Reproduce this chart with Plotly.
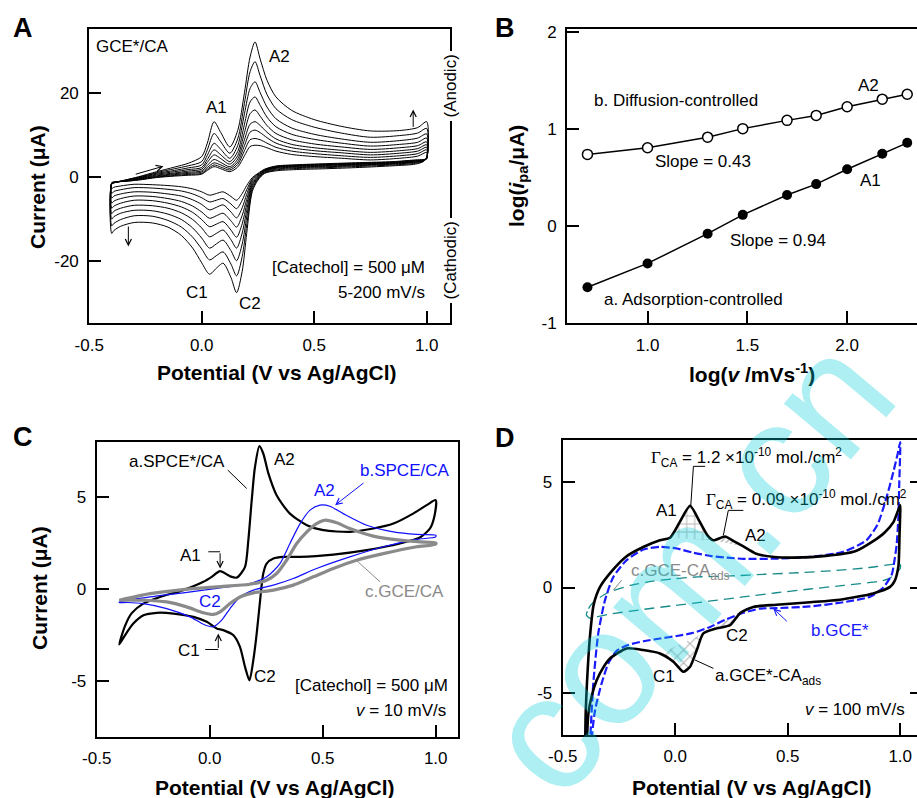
import plotly.graph_objects as go

W, H = 917, 798
FONT = "Liberation Sans, Arial, Helvetica, sans-serif"

# ---------------- Panel A : CVs at 9 scan rates ----------------
A_scan_rates = [200, 150, 100, 70, 50, 30, 20, 10, 5]
A_fwd_E = [-0.40, -0.38, -0.34, -0.28, -0.20, -0.12, -0.06, 0.00, 0.025, 0.055, 0.085, 0.125, 0.16,
           0.19, 0.215, 0.237, 0.26, 0.29, 0.33, 0.40, 0.50, 0.62, 0.75, 0.88, 0.96, 1.00]
A_fwd_I = [
    [-1.8, -1.3, -0.8, 0.0, 1.2, 2.3, 3.2, 4.8, 8.0, 13.1, 10.5, 7.1, 11.0, 20.0, 28.5, 32.1, 28.0, 23.0, 19.0, 15.8, 13.6, 12.0, 10.9, 11.0, 11.7, 13.1],
    [-1.8, -1.3, -0.8, -0.1, 1.0, 1.9, 2.6, 3.6, 6.4, 10.3, 8.3, 5.6, 9.0, 17.5, 25.0, 27.4, 24.0, 19.6, 16.2, 13.6, 11.8, 10.4, 9.4, 9.8, 10.4, 11.5],
    [-1.7, -1.3, -0.9, -0.2, 0.8, 1.5, 2.1, 2.8, 5.1, 7.95, 6.5, 4.4, 7.4, 15.0, 21.0, 22.6, 20.0, 16.6, 13.8, 11.6, 10.1, 9.0, 8.2, 8.6, 9.2, 10.2],
    [-1.7, -1.3, -0.9, -0.3, 0.6, 1.2, 1.7, 2.2, 4.1, 6.4, 5.2, 3.6, 6.0, 12.5, 17.8, 19.0, 17.0, 14.2, 11.9, 10.1, 8.9, 8.0, 7.3, 7.7, 8.2, 9.2],
    [-1.6, -1.3, -1.0, -0.4, 0.4, 0.9, 1.35, 1.8, 3.4, 5.2, 4.3, 3.0, 5.0, 10.5, 15.0, 15.9, 14.4, 12.2, 10.3, 8.8, 7.8, 7.1, 6.5, 6.9, 7.4, 8.3],
    [-1.6, -1.3, -1.0, -0.5, 0.2, 0.7, 1.05, 1.4, 2.7, 4.1, 3.4, 2.4, 4.2, 8.8, 12.5, 13.1, 12.2, 10.6, 9.0, 7.7, 6.9, 6.3, 5.8, 6.2, 6.7, 7.6],
    [-1.5, -1.3, -1.0, -0.6, 0.05, 0.5, 0.8, 1.1, 2.2, 3.3, 2.8, 2.0, 3.5, 7.4, 10.6, 11.1, 10.5, 9.3, 8.0, 6.9, 6.2, 5.7, 5.2, 5.6, 6.1, 7.0],
    [-1.5, -1.2, -1.1, -0.7, -0.1, 0.3, 0.55, 0.8, 1.8, 2.8, 2.3, 1.6, 2.9, 6.2, 8.8, 9.1, 8.8, 8.0, 7.0, 6.1, 5.5, 5.0, 4.6, 5.0, 5.5, 6.4],
    [-1.4, -1.2, -1.1, -0.8, -0.2, 0.15, 0.35, 0.6, 1.5, 2.4, 1.9, 1.2, 2.3, 5.0, 7.2, 7.5, 7.4, 6.9, 6.1, 5.3, 4.8, 4.4, 4.0, 4.4, 4.9, 5.8],
]
A_rev_E = [1.00, 0.985, 0.95, 0.85, 0.70, 0.55, 0.42, 0.33, 0.28, 0.25, 0.225, 0.20, 0.18, 0.155, 0.13,
           0.095, 0.065, 0.035, 0.00, -0.04, -0.09, -0.15, -0.22, -0.30, -0.36, -0.39, -0.40]
A_rev_I = [
    [4.6, 3.6, 3.0, 2.6, 2.2, 1.9, 1.7, 1.4, 0.8, -0.8, -3.5, -13.5, -22.5, -27.6, -24.0, -20.6, -21.8, -23.2, -20.5, -17.0, -14.0, -12.0, -11.0, -10.9, -11.8, -12.8, -13.5],
    [4.5, 3.7, 3.2, 2.8, 2.45, 2.15, 1.95, 1.6, 0.95, -0.6, -3.0, -11.5, -19.0, -23.6, -20.8, -17.9, -18.8, -19.8, -17.2, -14.4, -12.0, -10.4, -9.4, -9.3, -10.2, -11.1, -11.7],
    [4.5, 3.8, 3.4, 3.0, 2.65, 2.35, 2.15, 1.8, 1.1, -0.4, -2.5, -9.6, -16.0, -20.0, -17.6, -15.1, -16.0, -17.0, -14.6, -12.2, -10.2, -8.9, -8.1, -8.0, -8.7, -9.5, -10.1],
    [4.4, 3.8, 3.5, 3.1, 2.8, 2.5, 2.3, 2.0, 1.25, -0.2, -2.0, -8.0, -13.4, -17.0, -15.0, -12.7, -13.5, -14.3, -12.2, -10.2, -8.6, -7.5, -6.9, -6.8, -7.5, -8.2, -8.8],
    [4.4, 3.9, 3.6, 3.2, 2.95, 2.65, 2.45, 2.15, 1.4, 0.0, -1.6, -6.6, -11.2, -14.4, -12.7, -10.7, -11.3, -11.9, -10.2, -8.5, -7.2, -6.3, -5.7, -5.6, -6.3, -7.0, -7.5],
    [4.3, 3.9, 3.7, 3.3, 3.05, 2.8, 2.55, 2.25, 1.5, 0.2, -1.2, -5.4, -9.2, -12.0, -10.5, -8.7, -9.3, -9.9, -8.4, -7.0, -5.9, -5.2, -4.7, -4.6, -5.2, -5.8, -6.3],
    [4.3, 4.0, 3.8, 3.4, 3.15, 2.9, 2.65, 2.35, 1.6, 0.4, -0.8, -4.2, -7.4, -9.8, -8.4, -6.7, -7.3, -7.9, -6.6, -5.5, -4.6, -4.1, -3.7, -3.6, -4.1, -4.6, -5.1],
    [4.3, 4.0, 3.9, 3.5, 3.25, 3.0, 2.75, 2.45, 1.7, 0.6, -0.5, -3.1, -5.6, -7.6, -6.5, -5.2, -5.6, -6.0, -5.0, -4.1, -3.4, -3.0, -2.7, -2.6, -3.1, -3.5, -4.0],
    [4.3, 4.1, 4.0, 3.6, 3.35, 3.1, 2.85, 2.55, 1.8, 0.8, -0.2, -2.1, -4.0, -5.6, -4.7, -3.6, -4.0, -4.4, -3.6, -2.9, -2.4, -2.1, -1.9, -1.8, -2.2, -2.5, -2.8],
]

# ---------------- Panel B : log(ipa) vs log(v) ----------------
B_logv = [0.699, 1.000, 1.301, 1.477, 1.699, 1.845, 2.000, 2.176, 2.301]
B_logi_A2 = [0.738, 0.806, 0.915, 1.003, 1.088, 1.139, 1.228, 1.306, 1.357]
B_logi_A1 = [-0.629, -0.384, -0.078, 0.116, 0.320, 0.432, 0.585, 0.745, 0.857]

# ---------------- Panel C : SPCE*/CA, SPCE/CA, GCE/CA ----------------
C_a_E = [-0.40, -0.375, -0.345, -0.294, -0.22, -0.117, -0.028, 0.009, 0.046, 0.09, 0.12, 0.156, 0.171, 0.186,
         0.20, 0.22, 0.237, 0.26, 0.296, 0.355, 0.43, 0.503, 0.62, 0.724, 0.813, 0.90, 0.96, 1.00,
         0.995, 0.975, 0.93, 0.842, 0.695, 0.547, 0.40, 0.326, 0.282, 0.252, 0.237, 0.223, 0.208, 0.193,
         0.176, 0.156, 0.134, 0.105, 0.06, 0.031, -0.013, -0.072, -0.16, -0.234, -0.293, -0.338, -0.375, -0.40]
C_a_I = [-3.0, -2.0, -1.3, -0.78, -0.42, -0.05, 0.4, 0.67, 0.98, 0.7, 0.63, 1.2, 2.66, 4.83,
         6.6, 7.76, 7.36, 6.27, 5.1, 4.1, 3.47, 3.2, 3.11, 3.29, 3.56, 4.1, 4.56, 4.83,
         4.0, 3.3, 2.8, 2.48, 2.12, 1.88, 1.75, 1.75, 1.66, 1.39, 0.85, -0.6, -2.4, -3.85,
         -4.94, -4.2, -3.13, -2.5, -2.22, -2.13, -1.77, -1.5, -1.32, -1.28, -1.41, -1.86, -2.5, -3.0]
C_b_E = [-0.40, -0.264, -0.117, 0.031, 0.178, 0.252, 0.311, 0.355, 0.40, 0.444, 0.488, 0.532, 0.591, 0.695,
         0.813, 0.916, 1.00, 1.00, 0.916, 0.768, 0.62, 0.473, 0.37, 0.282, 0.193, 0.134, 0.09, 0.053,
         0.016, -0.028, -0.087, -0.19, -0.294, -0.367, -0.40, -0.40]
C_b_I = [-0.69, -0.42, -0.2, 0.04, 0.31, 0.67, 1.39, 2.48, 3.56, 4.29, 4.56, 4.5, 4.1, 3.47,
         3.11, 2.97, 2.93, 2.84, 2.7, 2.3, 1.75, 1.12, 0.58, 0.22, -0.05, -0.42, -1.05, -1.68,
         -2.04, -1.9, -1.5, -1.05, -0.78, -0.72, -0.72, -0.69]
C_c_E = [-0.40, -0.264, -0.117, 0.031, 0.178, 0.252, 0.296, 0.34, 0.385, 0.43, 0.473, 0.51, 0.562, 0.62,
         0.724, 0.842, 0.93, 1.00, 1.00, 0.916, 0.768, 0.65, 0.547, 0.459, 0.37, 0.282, 0.193, 0.134,
         0.09, 0.046, 0.016, -0.028, -0.102, -0.19, -0.294, -0.40, -0.40]
C_c_I = [-0.6, -0.24, -0.02, 0.13, 0.27, 0.49, 0.85, 1.57, 2.48, 3.11, 3.56, 3.74, 3.6, 3.29,
         2.88, 2.66, 2.57, 2.51, 2.44, 2.3, 1.93, 1.57, 1.12, 0.67, 0.22, -0.05, -0.2, -0.42,
         -0.78, -1.23, -1.37, -1.28, -0.96, -0.69, -0.6, -0.6, -0.6]

# ---------------- Panel D : GCE*-CAads, GCE*, GCE-CAads ----------------
D_a_fwd_E = [-0.40, -0.398, -0.392, -0.379, -0.362, -0.334, -0.28, -0.22, -0.142, -0.068, -0.023, 0.02,
             0.066, 0.11, 0.145, 0.17, 0.221, 0.26, 0.303, 0.36, 0.44, 0.53, 0.67, 0.80, 0.88, 0.93, 0.97, 1.00]
D_a_fwd_I = [-7.5, -6.0, -4.5, -2.34, -0.8, 0.03, 0.8, 1.45, 1.92, 2.24, 2.36, 3.1,
             3.88, 3.1, 2.45, 2.24, 2.42, 2.2, 1.95, 1.6, 1.45, 1.42, 1.5, 1.72, 2.2, 2.6, 3.1, 3.9]
D_a_rev_E = [1.00, 0.997, 0.992, 0.975, 0.955, 0.88, 0.733, 0.60, 0.45, 0.347, 0.29, 0.244, 0.184, 0.125,
             0.096, 0.066, 0.036, -0.008, -0.068, -0.142, -0.216, -0.29, -0.32, -0.349, -0.37, -0.386, -0.393]
D_a_rev_I = [3.5, 2.5, 1.0, 0.3, 0.03, -0.28, -0.58, -0.7, -0.82, -0.92, -1.2, -1.79, -1.94, -2.18,
             -2.97, -3.76, -4.0, -3.52, -3.13, -2.97, -2.89, -3.37, -3.8, -4.4, -5.1, -6.0, -7.5]
D_b_E = [-0.379, -0.364, -0.342, -0.312, -0.275, -0.216, -0.141, -0.067, 0.007, 0.081, 0.155, 0.229,
         0.303, 0.451, 0.599, 0.747, 0.85, 0.90, 0.94, 0.97, 0.99, 1.00,
         0.996, 0.992, 0.984, 0.97, 0.962, 0.925, 0.866, 0.747, 0.599, 0.45, 0.377, 0.303, 0.229, 0.155,
         0.081, 0.007, -0.067, -0.141, -0.216, -0.26, -0.297, -0.327, -0.356, -0.375]
D_b_I = [-7.5, -4.55, -2.18, -0.6, 0.5, 1.3, 1.8, 1.93, 1.85, 1.65, 1.5, 1.42,
         1.36, 1.37, 1.45, 1.69, 2.24, 3.0, 4.3, 5.5, 6.4, 6.9,
         5.0, 3.35, 2.0, 0.98, 0.6, 0.0, -0.44, -0.7, -0.9, -0.98, -1.0, -1.2, -1.5, -1.87,
         -2.15, -2.3, -2.42, -2.55, -2.75, -3.0, -3.6, -4.55, -5.81, -7.5]
D_c_E = [-0.395, -0.385, -0.364, -0.30, -0.20, -0.10, 0.00, 0.10, 0.25, 0.40, 0.55, 0.70, 0.85, 1.00,
         1.00, 0.95, 0.90, 0.75, 0.60, 0.45, 0.30, 0.15, 0.00, -0.15, -0.30, -0.38, -0.395]
D_c_I = [-1.3, -1.0, -0.7, -0.25, 0.1, 0.3, 0.42, 0.5, 0.55, 0.63, 0.7, 0.8, 0.93, 1.1,
         0.9, 0.42, 0.28, 0.1, -0.07, -0.25, -0.45, -0.65, -0.85, -1.05, -1.28, -1.45, -1.3]

# tick labels
A_xticks = [-0.5, 0.0, 0.5, 1.0]
A_xticktext = ["-0.5", "0.0", "0.5", "1.0"]
A_yticks = [-20, 0, 20]
B_xticks = [1.0, 1.5, 2.0]
B_yticks = [-1, 0, 1, 2]
C_yticks = [-5, 0, 5]
D_yticks = [-5, 0, 5]


def px_x(p):
    return p / W


def px_y(p):
    return 1 - p / H


fig = go.Figure()

# ---- Panel A traces
for k in range(len(A_scan_rates)):
    xs = A_fwd_E + A_rev_E + [A_fwd_E[0]]
    ys = A_fwd_I[k] + A_rev_I[k] + [A_fwd_I[k][0]]
    fig.add_trace(go.Scatter(x=xs, y=ys, mode="lines", xaxis="x", yaxis="y",
                             line=dict(color="black", width=1.0, shape="spline", smoothing=0.8),
                             name=f"{A_scan_rates[k]} mV/s", hoverinfo="skip"))

# ---- Panel B traces
fig.add_trace(go.Scatter(x=B_logv, y=B_logi_A2, mode="lines+markers", xaxis="x2", yaxis="y2",
                         line=dict(color="black", width=1.5),
                         marker=dict(symbol="circle", size=10, color="white", line=dict(color="black", width=1.5)),
                         name="A2"))
fig.add_trace(go.Scatter(x=B_logv, y=B_logi_A1, mode="lines+markers", xaxis="x2", yaxis="y2",
                         line=dict(color="black", width=1.5),
                         marker=dict(symbol="circle", size=10, color="black"),
                         name="A1"))

# ---- Panel C traces
fig.add_trace(go.Scatter(x=C_a_E, y=C_a_I, mode="lines", xaxis="x3", yaxis="y3",
                         line=dict(color="black", width=2.2, shape="spline", smoothing=0.7), name="a.SPCE*/CA"))
fig.add_trace(go.Scatter(x=C_b_E, y=C_b_I, mode="lines", xaxis="x3", yaxis="y3",
                         line=dict(color="#1010ff", width=1.2, shape="spline", smoothing=0.7), name="b.SPCE/CA"))
fig.add_trace(go.Scatter(x=C_c_E, y=C_c_I, mode="lines", xaxis="x3", yaxis="y3",
                         line=dict(color="#8a8a8a", width=3.2, shape="spline", smoothing=0.7), name="c.GCE/CA"))

# ---- Panel D traces : hatched areas first
hatch_specs = [
    (D_a_fwd_E[10:16], D_a_fwd_I[10:16], "+", 8, 0.22),
    (D_a_fwd_E[15:19], D_a_fwd_I[15:19], "/", 4, 0.35),
    (D_a_rev_E[13:19], D_a_rev_I[13:19], "x", 9, 0.22),
    (D_a_rev_E[10:14], D_a_rev_I[10:14], "/", 4, 0.35),
]
for hx, hy, shp, sz, sol in hatch_specs:
    fig.add_trace(go.Scatter(x=hx, y=hy, mode="lines", fill="toself", xaxis="x4", yaxis="y4",
                             line=dict(width=0, color="rgba(0,0,0,0)"),
                             fillcolor="rgba(0,0,0,0)",
                             fillpattern=dict(shape=shp, size=sz, solidity=sol, fgcolor="#666666",
                                              bgcolor="rgba(0,0,0,0)", fillmode="overlay"),
                             hoverinfo="skip", showlegend=False))
fig.add_trace(go.Scatter(x=D_c_E, y=D_c_I, mode="lines", xaxis="x4", yaxis="y4",
                         line=dict(color="#178a8a", width=1.3, dash="10px,6px", shape="spline", smoothing=0.6),
                         name="c.GCE-CAads"))
fig.add_trace(go.Scatter(x=D_b_E, y=D_b_I, mode="lines", xaxis="x4", yaxis="y4",
                         line=dict(color="#1a1aff", width=2.2, dash="8px,3px", shape="spline", smoothing=0.6),
                         name="b.GCE*"))
fig.add_trace(go.Scatter(x=D_a_fwd_E + D_a_rev_E, y=D_a_fwd_I + D_a_rev_I, mode="lines", xaxis="x4", yaxis="y4",
                         line=dict(color="black", width=2.6, shape="spline", smoothing=0.6),
                         name="a.GCE*-CAads"))


def axis(**kw):
    d = dict(showline=True, linecolor="black", linewidth=2, mirror=True, ticks="inside", ticklen=12,
             tickwidth=1.5, tickcolor="black", showgrid=False, zeroline=False, ticklabelstandoff=5,
             automargin=False, tickfont=dict(family=FONT, size=17, color="black"))
    d.update(kw)
    return d


yA = [px_y(323.3), px_y(29.3)]
yC = [px_y(736.7), px_y(441.7)]
yD = [px_y(735), px_y(440)]

fig.update_layout(
    width=W, height=H, margin=dict(l=0, r=0, t=0, b=0, autoexpand=False),
    paper_bgcolor="white", plot_bgcolor="white", showlegend=False,
    font=dict(family=FONT, size=17, color="black"),
    xaxis=axis(domain=[px_x(89.2), px_x(450)], range=[-0.5, 1.1036], anchor="y",
               tickvals=A_xticks, ticktext=A_xticktext),
    yaxis=axis(domain=yA, range=[-34.9, 35.1], anchor="x", tickvals=A_yticks,
               ticktext=[str(v) for v in A_yticks]),
    xaxis2=axis(domain=[px_x(567), 1.0], range=[0.5965, 2.35], anchor="y2",
                tickvals=B_xticks, ticktext=["1.0", "1.5", "2.0"]),
    yaxis2=axis(domain=yA, range=[-1, 2.025], anchor="x2", mirror=False, tickvals=B_yticks,
                ticktext=[str(v) for v in B_yticks]),
    xaxis3=axis(domain=[px_x(96.7), px_x(458)], range=[-0.5, 1.0987], anchor="y3",
                tickvals=A_xticks, ticktext=A_xticktext),
    yaxis3=axis(domain=yC, range=[-8, 8], anchor="x3", tickvals=C_yticks,
                ticktext=[str(v) for v in C_yticks]),
    xaxis4=axis(domain=[px_x(562.7), 1.0], range=[-0.5, 1.0747], anchor="y4",
                tickvals=A_xticks, ticktext=A_xticktext),
    yaxis4=axis(domain=yD, range=[-7, 7], anchor="x4", mirror=False, tickvals=D_yticks,
                ticktext=[str(v) for v in D_yticks]),
    yaxis5=dict(overlaying="y4", side="right", anchor="x4", range=[-7, 7], tickvals=D_yticks,
                ticks="inside", ticklen=7, tickwidth=1.5, tickcolor="black", showticklabels=False,
                showline=False, showgrid=False, zeroline=False, automargin=False),
)
# invisible trace on the right-hand tick axis of panel D
fig.add_trace(go.Scatter(x=[0.0], y=[0.0], xaxis="x4", yaxis="y5", mode="markers",
                         marker=dict(opacity=0), hoverinfo="skip", showlegend=False))

ann = []


def txt(text, x, y, xref, yref, size=17, color="black", xanchor="center", **kw):
    d = dict(text=text, x=x, y=y, xref=xref, yref=yref, showarrow=False, xanchor=xanchor, yanchor="middle",
             font=dict(family=FONT, size=size, color=color))
    d.update(kw)
    ann.append(d)


def arrow(x, y, ax, ay, xr, yr, color="black", head=5, width=1.0, size=1.2):
    ann.append(dict(text="", x=x, y=y, ax=ax, ay=ay, xref=xr, yref=yr, axref=xr, ayref=yr, showarrow=True,
                    arrowhead=head, arrowsize=size, arrowwidth=width, arrowcolor=color))


# panel letters
for lab, xx, yy in [("A", 22.5, 27.5), ("B", 505, 27.5), ("C", 23, 437), ("D", 505, 437.5)]:
    txt(f"<b>{lab}</b>", px_x(xx), px_y(yy), "paper", "paper", size=27)

# axis titles
txt("<b>Current (μA)</b>", px_x(37), px_y(187), "paper", "paper", size=21, textangle=-90)
txt("<b>Potential (V vs Ag/AgCl)</b>", px_x(277), px_y(372), "paper", "paper", size=21)
txt("<b>log(<i>i</i><sub>pa</sub>/μA)</b>", px_x(518), px_y(176), "paper", "paper", size=21, textangle=-90)
txt("<b>log(<i>v</i> /mVs<sup>-1</sup>)</b>", px_x(752), px_y(373), "paper", "paper", size=21)
txt("<b>Current (μA)</b>", px_x(39), px_y(588), "paper", "paper", size=21, textangle=-90)
txt("<b>Potential (V vs Ag/AgCl)</b>", px_x(275), px_y(787), "paper", "paper", size=21)
txt("<b>Potential (V vs Ag/AgCl)</b>", px_x(752), px_y(787), "paper", "paper", size=21)

# panel A texts
txt("GCE*/CA", -0.479, 30.9, "x", "y", xanchor="left")
txt("A2", 0.348, 28.7, "x", "y")
txt("A1", 0.064, 16.6, "x", "y")
txt("C1", -0.019, -27.5, "x", "y")
txt("C2", 0.215, -30.3, "x", "y")
txt("[Catechol] = 500 μM", 1.0, -21.7, "x", "y", xanchor="right")
txt("5-200 mV/s", 1.0, -27.5, "x", "y", xanchor="right")
txt("(Anodic)", px_x(449.5), px_y(86), "paper", "paper", textangle=-90, bgcolor="white", borderpad=3)
txt("(Cathodic)", px_x(449.5), px_y(261), "paper", "paper", textangle=-90, bgcolor="white", borderpad=3)
arrow(-0.326, -16.6, -0.326, -11.5, "x", "y")
arrow(0.94, 16.0, 0.94, 11.5, "x", "y")
arrow(-0.17, 2.5, -0.30, 0.5, "x", "y")

# panel B texts
txt("b. Diffusion-controlled", 0.722, 1.297, "x2", "y2", xanchor="left")
txt("Slope = 0.43", 1.027, 0.66, "x2", "y2", xanchor="left")
txt("A2", 2.105, 1.45, "x2", "y2")
txt("A1", 2.115, 0.474, "x2", "y2")
txt("Slope = 0.94", 1.402, -0.153, "x2", "y2", xanchor="left")
txt("a. Adsorption-controlled", 0.772, -0.75, "x2", "y2", xanchor="left")

# panel C texts
txt("a.SPCE*/CA", -0.143, 6.91, "x3", "y3")
txt("A2", 0.329, 7.03, "x3", "y3")
txt("b.SPCE/CA", 0.864, 6.42, "x3", "y3", color="#1010ff")
txt("A2", 0.506, 5.37, "x3", "y3", color="#1010ff")
txt("A1", -0.087, 1.84, "x3", "y3")
txt("C1", -0.091, -3.31, "x3", "y3")
txt("C2", 0.003, -0.69, "x3", "y3", color="#1010ff")
txt("C2", 0.246, -4.76, "x3", "y3")
txt("c.GCE/CA", 0.864, -0.14, "x3", "y3", color="#8a8a8a")
txt("[Catechol] = 500 μM", 1.063, -5.21, "x3", "y3", xanchor="right")
txt("<i>v</i> = 10 mV/s", 1.056, -6.56, "x3", "y3", xanchor="right")
arrow(0.555, 4.56, 0.687, 5.82, "x3", "y3", color="#1010ff")
arrow(0.046, 1.12, 0.046, 2.03, "x3", "y3")
arrow(0.038, -2.4, 0.038, -3.27, "x3", "y3")

# panel D texts
GAM = "<span style=\"font-family:'Liberation Serif', serif\">Γ</span>"
txt(GAM + "<sub>CA</sub> = 1.2 ×10<sup>-10</sup> mol./cm<sup>2</sup>", 0.318, 6.19, "x4", "y4")
txt(GAM + "<sub>CA</sub> = 0.09 ×10<sup>-10</sup> mol./cm<sup>2</sup>", 0.584, 4.17, "x4", "y4")
txt("A1", -0.038, 3.67, "x4", "y4")
txt("A2", 0.358, 2.48, "x4", "y4")
txt("c.GCE-CA<sub>ads</sub>", 0.024, 0.74, "x4", "y4", color="#8a8a8a")
txt("b.GCE*", 0.733, -2.02, "x4", "y4", color="#1a1aff")
txt("C2", 0.273, -2.26, "x4", "y4")
txt("C1", -0.051, -4.23, "x4", "y4")
txt("a.GCE*-CA<sub>ads</sub>", 0.17, -4.23, "x4", "y4", xanchor="left")
txt("<i>v</i> = 100 mV/s", 1.029, -5.78, "x4", "y4", xanchor="right")
arrow(0.436, -1.0, 0.503, -1.67, "x4", "y4", color="#1a1aff")

# watermark
txt("com.cn", px_x(688), px_y(565), "paper", "paper", size=165, color="rgba(0,205,215,0.32)", textangle=-50)

shapes = []


def seg(x0, y0, x1, y1, xr, yr, color="black", width=1.0):
    shapes.append(dict(type="line", x0=x0, y0=y0, x1=x1, y1=y1, xref=xr, yref=yr,
                       line=dict(color=color, width=width)))


seg(0.08, 6.46, 0.164, 5.46, "x3", "y3")
seg(-0.006, 2.03, 0.046, 2.03, "x3", "y3")
seg(-0.02, -3.27, 0.038, -3.27, "x3", "y3")
seg(0.653, 1.52, 0.754, 0.4, "x3", "y3", color="#8a8a8a")
seg(0.133, 5.75, 0.081, 5.75, "x4", "y4")
seg(0.081, 5.75, 0.069, 3.85, "x4", "y4")
seg(0.303, 3.66, 0.236, 3.66, "x4", "y4")
seg(0.236, 3.66, 0.214, 2.48, "x4", "y4")
seg(-0.275, -0.13, -0.238, 0.35, "x4", "y4", color="#8a8a8a")
seg(0.17, -3.84, 0.088, -3.44, "x4", "y4")

fig.update_layout(annotations=ann, shapes=shapes)
fig.write_html("out.html", config={"displayModeBar": False},
               post_script="document.body.style.margin='0px';")
